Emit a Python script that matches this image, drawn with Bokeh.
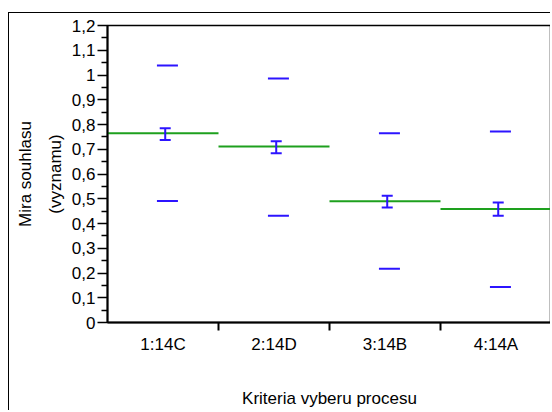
from bokeh.plotting import figure
from bokeh.models import FixedTicker, ColumnDataSource, Range1d, LinearAxis
from bokeh.transform import dodge
from bokeh.embed import file_html
from bokeh.resources import INLINE

# ---- data ----
categories = ["1:14C", "2:14D", "3:14B", "4:14A"]
means = [0.765, 0.711, 0.490, 0.459]
ci_upper = [0.785, 0.732, 0.512, 0.485]
ci_lower = [0.737, 0.684, 0.465, 0.431]
limit_upper = [1.038, 0.986, 0.765, 0.772]
limit_lower = [0.491, 0.431, 0.217, 0.143]
ytick_values = [0, 0.1, 0.2, 0.3, 0.4, 0.5, 0.6, 0.7, 0.8, 0.9, 1, 1.1, 1.2]
ytick_labels = ["0", "0,1", "0,2", "0,3", "0,4", "0,5", "0,6", "0,7", "0,8", "0,9", "1", "1,1", "1,2"]
x_title = "Kriteria vyberu procesu"
y_title_outer = "Mira souhlasu"
y_title_inner = "(vyznamu)"

FONT = "Liberation Sans"
FS = "17px"
BLUE = "#2c14ff"
GREEN = "#1ea01e"

xs = list(range(1, len(categories) + 1))
src = ColumnDataSource(dict(
    x=xs, x0=[x - 0.5 for x in xs], x1=[x + 0.5 for x in xs],
    mean=means, cu=ci_upper, cl=ci_lower, lu=limit_upper, ll=limit_lower,
))

p = figure(width=542, height=398, output_backend="svg", toolbar_location=None,
           x_range=Range1d(0.5, len(categories) + 0.5), y_range=Range1d(0, 1.2),
           min_border_left=98, min_border_right=0, min_border_top=12, min_border_bottom=89)
p.styles = {"margin-left": "8px", "margin-top": "12px",
            "border-left": "1.5px solid black", "border-top": "1.5px solid black"}
p.grid.visible = False
p.background_fill_color = "white"
p.border_fill_color = "white"
p.outline_line_color = "black"
p.outline_line_width = 1.5

# mean lines spanning each category
p.segment(x0="x0", y0="mean", x1="x1", y1="mean", source=src, line_color=GREEN, line_width=2)
# confidence interval error bars
p.segment(x0=dodge("x", 0.02), y0="cl", x1=dodge("x", 0.02), y1="cu", source=src,
          line_color=BLUE, line_width=2)
p.scatter(x=dodge("x", 0.02), y="cu", source=src, marker="dash", size=11,
          line_color=BLUE, line_width=2)
p.scatter(x=dodge("x", 0.02), y="cl", source=src, marker="dash", size=11,
          line_color=BLUE, line_width=2)
# limit dashes
p.scatter(x=dodge("x", 0.04), y="lu", source=src, marker="dash", size=21,
          line_color=BLUE, line_width=2)
p.scatter(x=dodge("x", 0.04), y="ll", source=src, marker="dash", size=21,
          line_color=BLUE, line_width=2)

# x axis
p.xaxis.ticker = FixedTicker(ticks=xs, minor_ticks=[x + 0.5 for x in xs[:-1]])
p.xaxis.major_label_overrides = {x: c for x, c in zip(xs, categories)}
p.xaxis.major_tick_out = 0
p.xaxis.major_tick_in = 0
p.xaxis.minor_tick_out = 8
p.xaxis.minor_tick_in = 0
p.xaxis.minor_tick_line_width = 2
p.xaxis.major_label_standoff = 4
p.xaxis.axis_label = x_title
p.xaxis.axis_label_standoff = 32

# y axis
p.yaxis.ticker = FixedTicker(ticks=ytick_values,
                             minor_ticks=[v + 0.05 for v in ytick_values[:-1]])
p.yaxis.major_label_overrides = {v: t for v, t in zip(ytick_values, ytick_labels)}
p.yaxis.major_tick_out = 10
p.yaxis.major_tick_in = 0
p.yaxis.minor_tick_out = 6
p.yaxis.minor_tick_in = 0
p.yaxis.major_tick_line_width = 1.5
p.yaxis.minor_tick_line_width = 1.5
p.yaxis.major_label_standoff = 2
p.yaxis.axis_label = y_title_inner
p.yaxis.axis_label_standoff = 4

# outer line of the two-line y title, as a label-only axis
outer = LinearAxis(ticker=FixedTicker(ticks=[]), axis_label=y_title_outer,
                   axis_line_color=None, major_tick_line_color=None,
                   minor_tick_line_color=None, axis_label_standoff=8)
p.add_layout(outer, "left")

for ax in (p.xaxis[0], p.yaxis[0], outer):
    if ax is not outer:
        ax.axis_line_color = "black"
        ax.axis_line_width = 2
    ax.major_label_text_font = FONT
    ax.major_label_text_font_size = FS
    ax.major_label_text_color = "black"
    ax.axis_label_text_font = FONT
    ax.axis_label_text_font_size = FS
    ax.axis_label_text_font_style = "normal"
    ax.axis_label_text_color = "black"

open("out.html", "w").write(file_html(p, INLINE))
